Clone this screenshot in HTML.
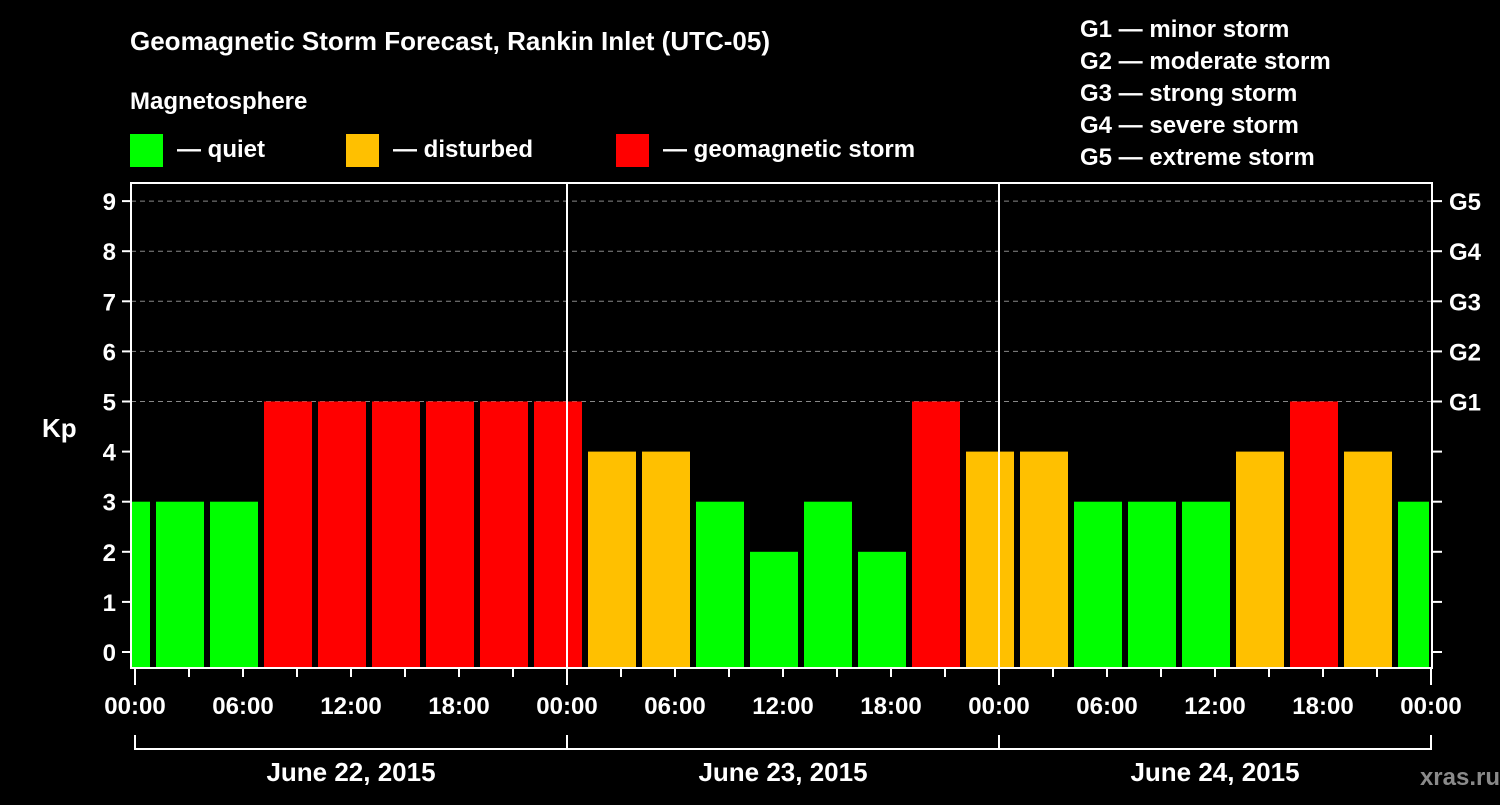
<!DOCTYPE html>
<html><head><meta charset="utf-8"><style>
body{margin:0;background:#000;width:1500px;height:800px;overflow:hidden;font-family:"Liberation Sans",Arial,sans-serif}
svg text{font-family:"Liberation Sans",Arial,sans-serif;font-weight:bold;fill:#fff}
</style></head><body>
<svg id="c" width="1500" height="800">
<text x="130" y="50" font-size="26">Geomagnetic Storm Forecast, Rankin Inlet (UTC-05)</text>
<text x="130" y="109" font-size="24">Magnetosphere</text>
<g>
<rect x="130" y="134" width="33" height="33" fill="#00ff00"/>
<text x="177" y="157" font-size="24">— quiet</text>
<rect x="346" y="134" width="33" height="33" fill="#ffc000"/>
<text x="393" y="157" font-size="24">— disturbed</text>
<rect x="616" y="134" width="33" height="33" fill="#ff0000"/>
<text x="663" y="157" font-size="24">— geomagnetic storm</text>
</g>
<g font-size="24">
<text x="1080" y="37">G1 — minor storm</text>
<text x="1080" y="69">G2 — moderate storm</text>
<text x="1080" y="101">G3 — strong storm</text>
<text x="1080" y="133">G4 — severe storm</text>
<text x="1080" y="165">G5 — extreme storm</text>
</g>
<text x="42" y="437" font-size="26">Kp</text>
<text x="1500" y="785" font-size="24" text-anchor="end" fill="#888" style="fill:#8a8a8a">xras.ru</text>
<g id="plot"></g>
</svg>
<script>
const hours=[-0.5,2.5,5.5,8.5,11.5,14.5,17.5,20.5,23.5,26.5,29.5,32.5,35.5,38.5,41.5,44.5,47.5,50.5,53.5,56.5,59.5,62.5,65.5,68.5,71.5];
const kp=[3,3,3,5,5,5,5,5,5,4,4,3,2,3,2,5,4,4,3,3,3,4,5,4,3];
const yTicks=[0,1,2,3,4,5,6,7,8,9];
const gLabels=["G1","G2","G3","G4","G5"];
const xLabels=["00:00","06:00","12:00","18:00","00:00","06:00","12:00","18:00","00:00","06:00","12:00","18:00","00:00"];
const days=["June 22, 2015","June 23, 2015","June 24, 2015"];
const L=131,R=1432,T=183,B=668;
const x=h=>135+h*18;
const y=v=>652-v*50.1;
const NS="http://www.w3.org/2000/svg";
const g=document.getElementById('plot');
function mk(t,a,txt){const e=document.createElementNS(NS,t);for(const k in a)e.setAttribute(k,a[k]);if(txt!==undefined)e.textContent=txt;g.appendChild(e);return e;}
const cp=mk('clipPath',{id:'clip'});cp.appendChild(Object.assign(document.createElementNS(NS,'rect'),{}));
cp.firstChild.setAttribute('x',L);cp.firstChild.setAttribute('y',T);cp.firstChild.setAttribute('width',1429-L);cp.firstChild.setAttribute('height',B-T);
// grid
yTicks.forEach(v=>{if(v>=5){const l=mk('line',{x1:L,x2:R,y1:y(v),y2:y(v),stroke:'#888','stroke-dasharray':'5,4','stroke-width':1});

}});
// bars
hours.forEach((h,i)=>{const v=kp[i];const c=v>=5?'#ff0000':v>=4?'#ffc000':'#00ff00';
const r=mk('rect',{x:x(h)-24,y:y(v),width:48,height:B-y(v),fill:c,'clip-path':'url(#clip)'});

});
// day separators
[1,2].forEach(d=>{const l=mk('line',{x1:x(d*24),x2:x(d*24),y1:T,y2:B,stroke:'#fff','stroke-width':2});

});
// frame
const f=mk('rect',{x:L,y:T,width:R-L,height:B-T,fill:'none',stroke:'#fff','stroke-width':2});


// y ticks
yTicks.forEach(v=>{mk('line',{x1:122,x2:L,y1:y(v),y2:y(v),stroke:'#fff','stroke-width':2});
mk('line',{x1:R,x2:1442,y1:y(v),y2:y(v),stroke:'#fff','stroke-width':2});
const t=mk('text',{x:116,y:y(v)+9,'font-size':24,'text-anchor':'end'},v);

});
gLabels.forEach((s,i)=>{const t=mk('text',{x:1449,y:y(5+i)+9,'font-size':24},s);

});
// x ticks
for(let h=0;h<=72;h+=3){const big=h%24===0;mk('line',{x1:x(h),x2:x(h),y1:B,y2:big?685:677,stroke:'#fff','stroke-width':2});}
xLabels.forEach((s,i)=>{const t=mk('text',{x:x(i*6),y:714,'font-size':24,'text-anchor':'middle'},s);

});
// day brackets
days.forEach((s,i)=>{const a=x(i*24),b=x(i*24+24);
mk('path',{d:`M${a},735V749H${b}V735`,fill:'none',stroke:'#fff','stroke-width':2});
const t=mk('text',{x:(a+b)/2,y:781,'font-size':26,'text-anchor':'middle'},s);

});
</script>
</body></html>
